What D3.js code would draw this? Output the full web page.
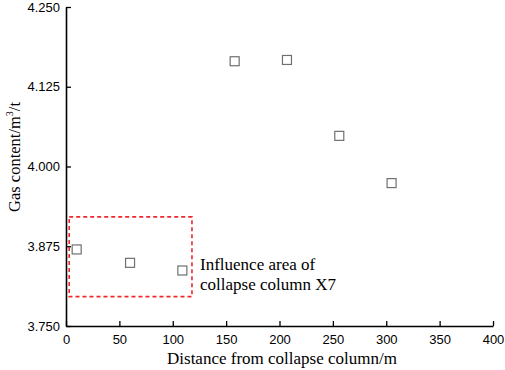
<!DOCTYPE html>
<html>
<head>
<meta charset="utf-8">
<script src="https://cdn.jsdelivr.net/npm/d3@7"></script>
<style>
  body { margin: 0; background: #fff; }
  svg { display: block; }
  .tick text { font-family: Arial, "Liberation Sans", sans-serif; font-size: 13px; fill: #000; }
  .axis--label { font-family: "Times New Roman", "Liberation Serif", serif; font-size: 17px; fill: #000; }
</style>
</head>
<body>
<div id="graphic"></div>
<script>
// data
const distance = [10, 60, 109, 158, 207, 256, 305];
const gasContent = [3.870, 3.849, 3.837, 4.165, 4.167, 4.048, 3.974];
const xTicks = [0, 50, 100, 150, 200, 250, 300, 350, 400];
const yTicks = [3.750, 3.875, 4.000, 4.125, 4.250];
const influenceBox = { x0: 3, x1: 118, y0: 3.796, y1: 3.921 };
const annotation = ["Influence area of", "collapse column X7"];

const width = 505, height = 370;
const margin = { top: 7, right: 12, bottom: 44, left: 66 };

const svg = d3.select('#graphic').append('svg')
  .attr('width', width)
  .attr('height', height);

const x = d3.scaleLinear().domain([0, 400]).range([margin.left, width - margin.right]);
const y = d3.scaleLinear().domain([3.75, 4.25]).range([height - margin.bottom, margin.top]);

// x axis, ticks pointing inward
const xAxis = svg.append('g')
  .attr('transform', 'translate(0,' + (height - margin.bottom) + ')')
  .call(d3.axisBottom(x).tickValues(xTicks).tickFormat(d3.format('d')).tickSize(-5).tickPadding(9).tickSizeOuter(0));
xAxis.select('.domain').attr('stroke-width', 1.6);
xAxis.selectAll('.tick line').attr('stroke-width', 1.3);

// y axis
const yAxis = svg.append('g')
  .attr('transform', 'translate(' + margin.left + ',0)')
  .call(d3.axisLeft(y).tickValues(yTicks).tickFormat(d3.format('.3f')).tickSize(-5).tickPadding(6).tickSizeOuter(0));
yAxis.select('.domain').attr('stroke-width', 1.6);
yAxis.selectAll('.tick line').attr('stroke-width', 1.3);

// influence area box
svg.append('rect')
  .attr('x', x(influenceBox.x0))
  .attr('y', y(influenceBox.y1))
  .attr('width', x(influenceBox.x1) - x(influenceBox.x0))
  .attr('height', y(influenceBox.y0) - y(influenceBox.y1))
  .attr('fill', 'none')
  .attr('stroke', '#f0282d')
  .attr('stroke-width', 1.6)
  .attr('stroke-dasharray', '4,3');

// points
const pts = distance.map((d, i) => ({ d: d, g: gasContent[i] }));
svg.append('g').selectAll('rect')
  .data(pts)
  .join('rect')
  .attr('x', p => x(p.d) - 4.5)
  .attr('y', p => y(p.g) - 4.5)
  .attr('width', 9)
  .attr('height', 9)
  .attr('fill', '#fff')
  .attr('stroke', '#707070')
  .attr('stroke-width', 1.2);

// annotation
svg.append('text')
  .attr('class', 'axis--label')
  .selectAll('tspan')
  .data(annotation)
  .join('tspan')
  .attr('x', 200)
  .attr('y', (d, i) => 270 + i * 20)
  .text(d => d);

// axis titles
svg.append('text')
  .attr('class', 'axis--label')
  .attr('text-anchor', 'middle')
  .attr('x', 282)
  .attr('y', 364)
  .text('Distance from collapse column/m');

const yTitle = svg.append('text')
  .attr('class', 'axis--label')
  .attr('text-anchor', 'middle')
  .style('font-size', '16.5px')
  .attr('transform', 'translate(20,157) rotate(-90)');
yTitle.append('tspan').text('Gas content/m');
yTitle.append('tspan').attr('dy', -7).style('font-size', '10px').text('3');
yTitle.append('tspan').attr('dy', 7).text('/t');
</script>
</body>
</html>
